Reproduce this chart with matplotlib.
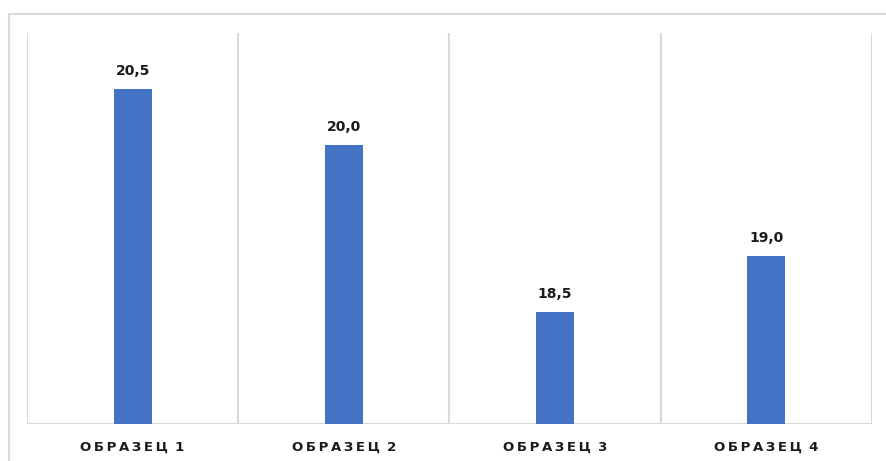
import matplotlib
matplotlib.use("Agg")
import matplotlib.pyplot as plt
from matplotlib.patches import Rectangle

categories = ["ОБРАЗЕЦ 1", "ОБРАЗЕЦ 2", "ОБРАЗЕЦ 3", "ОБРАЗЕЦ 4"]
values = [20.5, 20.0, 18.5, 19.0]
value_labels = ["20,5", "20,0", "18,5", "19,0"]

W, H = 887, 461
fig = plt.figure(figsize=(W / 100, H / 100), dpi=100)
fig.patch.set_facecolor("white")

# outer chart frame (clipped at right/bottom)
fig.add_artist(Rectangle((9 / W, -0.1), 1.2, (1 - 14 / H) + 0.1,
                         transform=fig.transFigure, fill=False,
                         edgecolor="#d9d9d9", linewidth=1.5))

left, right, bottom, top = 27 / W, 872 / W, 1 - 424 / H, 1 - 33 / H
ax = fig.add_axes([left, bottom, right - left, top - bottom])

x = list(range(len(categories)))
ax.bar(x, values, width=0.18, color="#4472c4", zorder=3)

ax.set_xlim(-0.5, len(categories) - 0.5)
ax.set_ylim(17.5, 21.0)

# vertical separators
ax.vlines([i - 0.5 for i in range(len(categories) + 1)], 17.5, 21.0,
          colors="#d9d9d9", linewidth=1.5, zorder=1)
ax.axhline(17.5, color="#d9d9d9", linewidth=1.5, zorder=2)

for s in ax.spines.values():
    s.set_visible(False)
ax.set_yticks([])
ax.set_xticks(x)


def spaced(label):
    word, num = label.split(" ")
    return "\u2009".join(word) + "\u2009 " + num


ax.set_xticklabels([spaced(c) for c in categories], fontsize=9.5,
                   fontweight="bold", color="#1a1a1a")
ax.tick_params(axis="x", length=0, pad=12)

for xi, v, lab in zip(x, values, value_labels):
    ax.annotate(lab, (xi, v), xytext=(0, 8), textcoords="offset points",
                ha="center", va="bottom", fontsize=10, fontweight="bold",
                color="#1a1a1a")

fig.savefig("out.png", dpi=100, facecolor="white")
